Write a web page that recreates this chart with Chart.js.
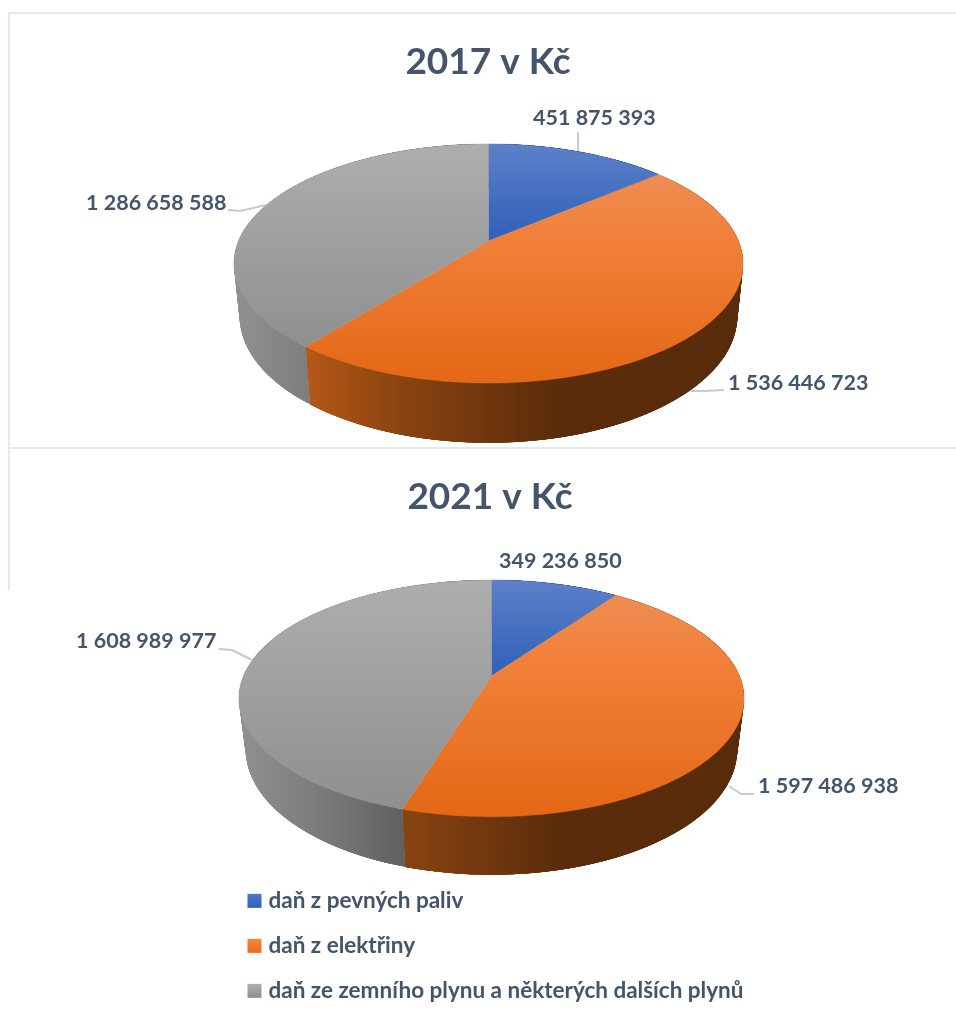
<!DOCTYPE html>
<html><head><meta charset="utf-8">
<style>
html,body{margin:0;padding:0;background:#fff;width:956px;height:1019px;overflow:hidden}
canvas{position:absolute;filter:blur(0.4px)}
.rule{position:absolute;background:#e4e8f0}
</style>
<script src="https://cdn.jsdelivr.net/npm/chart.js@4/dist/chart.umd.min.js"></script>
</head><body>
<div class="rule" style="left:8px;top:12px;width:948px;height:2px"></div>
<div class="rule" style="left:8px;top:12px;width:2px;height:436px"></div>
<div class="rule" style="left:8px;top:447px;width:948px;height:2px"></div>
<div class="rule" style="left:8px;top:448px;width:2px;height:142px"></div>
<div style="position:absolute;left:20px;top:0;width:936px;height:448px"><canvas id="c1"></canvas></div>
<div style="position:absolute;left:24px;top:448px;width:932px;height:648px"><canvas id="c2"></canvas></div>
<script>
const categories = ['daň z pevných paliv', 'daň z elektřiny', 'daň ze zemního plynu a některých dalších plynů'];
const values2017 = [451875393, 1536446723, 1286658588];
const values2021 = [349236850, 1597486938, 1608989977];
const title2017 = '2017 v Kč';
const title2021 = '2021 v Kč';

const swatches = ['#4270c4', '#ee7522', '#a0a0a0'];
const swatchStops = [['#4d78cd', '#2f60b8'], ['#f5863e', '#ee6c15'], ['#b0b0b0', '#8f8f8f']];
const faceStops = [
  [[0,'#5d80ca'],[1,'#2f60b8']],
  [[0,'#ee8d54'],[0.3,'#f1803a'],[1,'#e36816']],
  [[0,'#aeaeae'],[1,'#8f8f8f']]
];
const wallRgb = [[68,114,196],[237,115,30],[165,165,165]];
const wallShade = [[0,.88],[.15,.76],[.33,.58],[.64,.38],[1,.37]];
const TEXT = '#44546a', LEAD = '#c0ccdc';
const FONT = 'Lato, "Open Sans", sans-serif';

const fmt = v => String(v).replace(/\B(?=(\d{3})+$)/g, '\u00a0');

function project(g, t, z) {
  const u = Math.sin(t), v = -Math.cos(t), w = 1 + g.c * v + g.e * z;
  return [g.cx + g.d * u / w, g.cy + (g.a * v + g.h * z) / w];
}
function rim(g, s, e, z, n) {
  const pts = [];
  for (let k = 0; k <= n; k++) pts.push(project(g, s + (e - s) * k / n, z));
  return pts;
}
function fillPoly(ctx, pts) {
  ctx.beginPath();
  pts.forEach((q, j) => j ? ctx.lineTo(q[0], q[1]) : ctx.moveTo(q[0], q[1]));
  ctx.closePath();
  ctx.fill();
}
const pie3d = {
  id: 'pie3d',
  beforeDatasetsDraw(chart, args, o) {
    const ctx = chart.ctx, g = o.geo, arcs = chart.getDatasetMeta(0).data;
    ctx.save();
    ctx.translate(-o.left, -o.top);
    const spans = arcs.map(a => [a.startAngle + Math.PI / 2, a.endAngle + Math.PI / 2]);
    // side walls: overlapping strips so the outline follows the silhouette
    [1, 2, 0].forEach(i => {
      const [s, e] = spans[i], n = 160;
      const gr = ctx.createLinearGradient(g.cx - 255, 0, g.cx + 255, 0);
      wallShade.forEach(([p, f]) => gr.addColorStop(p, `rgb(${wallRgb[i].map(k => Math.round(k * f)).join(',')})`));
      ctx.fillStyle = gr;
      for (let k = 0; k < n; k++) {
        const a = s + (e - s) * k / n, b = s + (e - s) * Math.min(n, k + 5) / n;
        fillPoly(ctx, [project(g, a, 0), project(g, b, 0), project(g, b, 1), project(g, a, 1)]);
      }
    });
    // top faces, each with a gradient over its own height
    spans.forEach(([s, e], i) => {
      const pts = [[g.cx, g.cy]].concat(rim(g, s, e, 0, 240));
      const ys = pts.map(q => q[1]);
      const gr = ctx.createLinearGradient(0, Math.min(...ys), 0, Math.max(...ys));
      faceStops[i].forEach(([p, c]) => gr.addColorStop(p, c));
      ctx.fillStyle = gr;
      ctx.strokeStyle = gr;
      ctx.lineWidth = 0.5;
      fillPoly(ctx, pts);
      ctx.stroke();
    });
    // leader lines
    ctx.strokeStyle = LEAD; ctx.lineWidth = 2; ctx.lineJoin = 'round';
    o.leaders.forEach(l => {
      ctx.beginPath();
      l.forEach((q, j) => j ? ctx.lineTo(q[0], q[1]) : ctx.moveTo(q[0], q[1]));
      ctx.stroke();
    });
    // data labels
    ctx.fillStyle = TEXT;
    ctx.font = `bold ${o.labelSize}px ${FONT}`;
    ctx.textBaseline = 'middle';
    ctx.textAlign = 'left';
    chart.data.datasets[0].data.forEach((v, i) => {
      ctx.fillText(fmt(v), o.labels[i][0], o.labels[i][1]);
    });
    ctx.restore();
    return false;
  },
  afterDraw(chart) {
    const lg = chart.legend;
    if (!lg || !lg.options.display) return;
    const ctx = chart.ctx;
    lg.legendHitBoxes.forEach((b, i) => {
      const y = b.top + b.height / 2 - 7;
      const gr = ctx.createLinearGradient(0, y, 0, y + 14);
      gr.addColorStop(0, swatchStops[i][0]);
      gr.addColorStop(1, swatchStops[i][1]);
      ctx.fillStyle = gr;
      ctx.fillRect(b.left, y, 14, 14);
    });
  }
};

function makeChart(id, title, values, pieOpts, titlePad, legend, padding) {
  return new Chart(document.getElementById(id), {
    type: 'pie',
    data: { labels: categories, datasets: [{ data: values, backgroundColor: swatches, borderWidth: 0 }] },
    plugins: [pie3d],
    options: {
      responsive: true, maintainAspectRatio: false, animation: false,
      layout: { padding },
      plugins: {
        tooltip: { enabled: false },
        title: { display: true, text: title, color: TEXT,
          font: { family: FONT, size: 37, weight: 'bold' }, padding: titlePad },
        legend,
        pie3d: pieOpts
      }
    }
  });
}

makeChart('c1', title2017, values2017, {
  left: 20, top: 0, labelSize: 21.5,
  geo: { cx: 488.5, cy: 241, a: 115.3, c: -0.188, d: 250, h: 53, e: 0.022 },
  labels: [[533, 118], [728, 383], [86, 203]],
  leaders: [[[578, 132], [578, 151]], [[690, 391], [703, 391], [724, 390]], [[228, 210], [240, 211], [266, 205]]]
}, { top: 40, bottom: 0 }, { display: false }, 0);

makeChart('c2', title2021, values2021, {
  left: 24, top: 448, labelSize: 21.5,
  geo: { cx: 491.5, cy: 676, a: 114.1, c: -0.189, d: 248, h: 52.5, e: 0.027 },
  labels: [[499, 561], [758, 786], [76, 641]],
  leaders: [[[729, 786], [741, 794], [754, 794]], [[219, 649], [232, 650], [252, 660]]]
}, { top: 27, bottom: 0 }, {
  display: true, position: 'chartArea', align: 'end',
  labels: { color: TEXT, boxWidth: 9.75, boxHeight: 13, padding: 22.5,
    font: { family: FONT, size: 22.5, weight: 'bold' },
    generateLabels(chart) {
      return Chart.overrides.pie.plugins.legend.labels.generateLabels(chart)
        .map(l => Object.assign(l, { fillStyle: 'rgba(0,0,0,0)', strokeStyle: 'rgba(0,0,0,0)', lineWidth: 0 }));
    } }
}, { left: 201, right: 201, bottom: 0 });
</script>
</body></html>
